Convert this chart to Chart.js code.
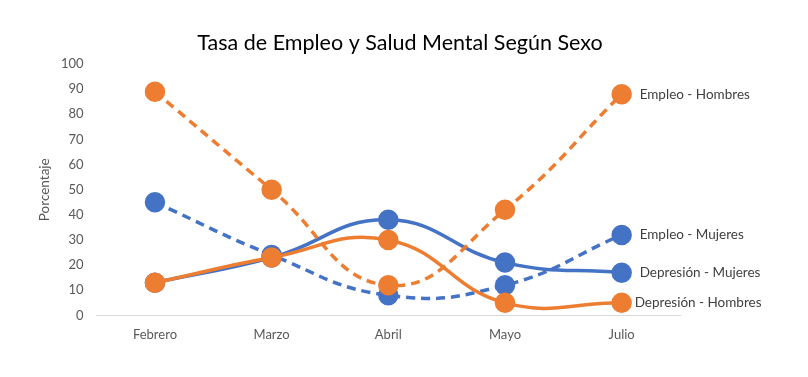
<!DOCTYPE html>
<html>
<head>
<meta charset="utf-8">
<script src="https://cdn.jsdelivr.net/npm/chart.js@4"></script>
<style>
html,body{margin:0;padding:0;background:#fff;}
#wrap{width:808px;height:377px;}
</style>
</head>
<body>
<div id="wrap"><canvas id="c" width="808" height="377"></canvas></div>
<script>
const categories = ["Febrero", "Marzo", "Abril", "Mayo", "Julio"];
const empleoHombres = [89, 50, 12, 42, 88];
const empleoMujeres = [45, 24, 8, 12, 32];
const depresionMujeres = [13, 23, 38, 21, 17];
const depresionHombres = [13, 23, 30, 5, 5];
const yTicks = [0, 10, 20, 30, 40, 50, 60, 70, 80, 90, 100];
const chartTitle = "Tasa de Empleo y Salud Mental Según Sexo";
const yTitle = "Porcentaje";

const ORANGE = "#ED7D31";
const BLUE = "#4472C4";
const FONT = "Lato, 'Open Sans', sans-serif";

function ds(label, data, color, dashed, order, labelDx, labelDy) {
  return {
    label, data,
    borderColor: color,
    backgroundColor: color,
    pointBackgroundColor: color,
    pointBorderColor: color,
    borderWidth: 3.5,
    borderDash: dashed ? [9, 6] : [],
    pointRadius: 8.5,
    pointHoverRadius: 8.5,
    tension: 0.45,
    fill: false,
    order,
    endLabel: { dx: labelDx, dy: labelDy }
  };
}

const decorations = {
  id: "decorations",
  afterDatasetsDraw(chart) {
    const ctx = chart.ctx;
    const area = chart.chartArea;
    ctx.save();
    // end labels
    ctx.font = "13.5px " + FONT;
    ctx.fillStyle = "#404040";
    ctx.textBaseline = "middle";
    ctx.textAlign = "left";
    chart.data.datasets.forEach((d, i) => {
      const meta = chart.getDatasetMeta(i);
      const last = meta.data[meta.data.length - 1];
      ctx.fillText(d.label, last.x + d.endLabel.dx, last.y + d.endLabel.dy);
    });
    // chart title
    ctx.font = "21.5px " + FONT;
    ctx.fillStyle = "#000";
    ctx.textAlign = "center";
    ctx.fillText(chartTitle, chart.width / 2 - 4, 43);
    // y axis title
    ctx.translate(45, (area.top + area.bottom) / 2);
    ctx.rotate(-Math.PI / 2);
    ctx.font = "13.5px " + FONT;
    ctx.fillStyle = "#595959";
    ctx.fillText(yTitle, 0, 0);
    ctx.restore();
  }
};

new Chart(document.getElementById("c"), {
  type: "line",
  data: {
    labels: categories,
    datasets: [
      ds("Empleo - Hombres", empleoHombres, ORANGE, true, 1, 18, 0),
      ds("Depresión - Hombres", depresionHombres, ORANGE, false, 2, 13, 0),
      ds("Empleo - Mujeres", empleoMujeres, BLUE, true, 3, 18, 0),
      ds("Depresión - Mujeres", depresionMujeres, BLUE, false, 4, 18, 0)
    ]
  },
  options: {
    responsive: false,
    animation: false,
    layout: { padding: { left: 48, right: 128, top: 64, bottom: 22 } },
    plugins: {
      legend: { display: false },
      tooltip: { enabled: false },
      title: { display: false }
    },
    scales: {
      x: {
        offset: true,
        grid: { display: false, drawTicks: false },
        border: { display: true, color: "#d9d9d9", width: 1 },
        ticks: { color: "#595959", font: { family: FONT, size: 13 }, padding: 12 }
      },
      y: {
        min: 0, max: 100,
        afterBuildTicks(axis) { axis.ticks = yTicks.map(v => ({ value: v })); },
        grid: { display: false, drawTicks: false },
        border: { display: false },
        ticks: { color: "#595959", font: { family: FONT, size: 13 }, padding: 13 }
      }
    }
  },
  plugins: [decorations]
});
</script>
</body>
</html>
